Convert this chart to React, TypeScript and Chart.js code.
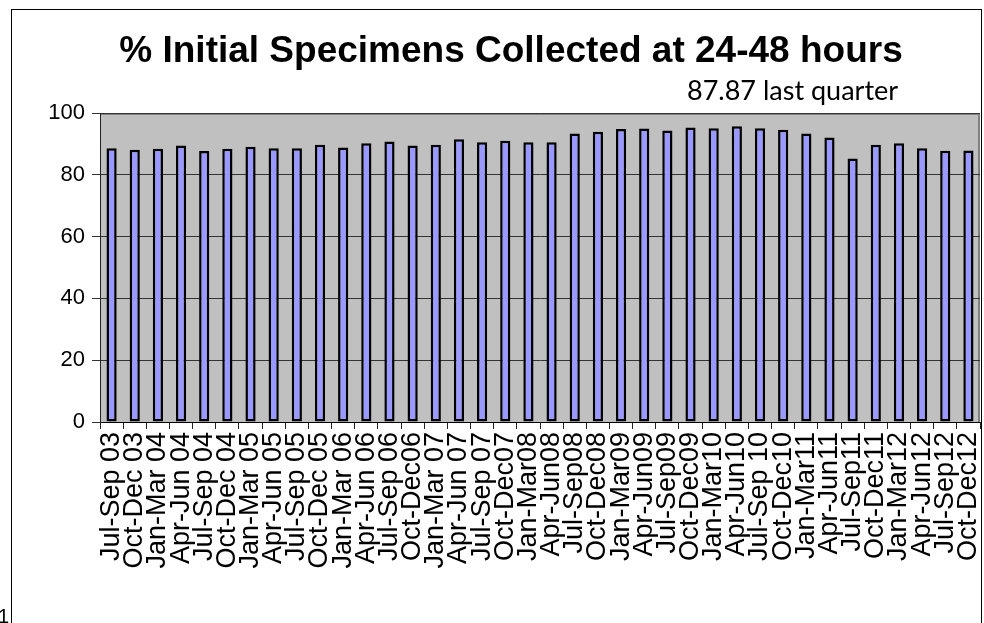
import React, { useEffect, useRef } from "react";
import { Chart, registerables } from "chart.js";
Chart.register(...registerables);

const TITLE = "% Initial Specimens Collected at 24-48 hours";
const SUBTITLE = "87.87 last quarter";

const categories = [
  "Jul-Sep 03", "Oct-Dec 03", "Jan-Mar 04", "Apr-Jun 04", "Jul-Sep 04", "Oct-Dec 04",
  "Jan-Mar 05", "Apr-Jun 05", "Jul-Sep 05", "Oct-Dec 05", "Jan-Mar 06", "Apr-Jun 06",
  "Jul-Sep 06", "Oct-Dec06", "Jan-Mar 07", "Apr-Jun 07", "Jul-Sep 07", "Oct-Dec07",
  "Jan-Mar08", "Apr-Jun08", "Jul-Sep08", "Oct-Dec08", "Jan-Mar09", "Apr-Jun09",
  "Jul-Sep09", "Oct-Dec09", "Jan-Mar10", "Apr-Jun10", "Jul-Sep 10", "Oct-Dec10",
  "Jan-Mar11", "Apr-Jun11", "Jul-Sep11", "Oct-Dec11", "Jan-Mar12", "Apr-Jun12",
  "Jul-Sep12", "Oct-Dec12",
];

const percentCollected = [
  88.6, 88.1, 88.4, 89.5, 87.7, 88.4,
  89.1, 88.6, 88.6, 89.7, 88.8, 90.2,
  90.8, 89.5, 89.7, 91.5, 90.5, 91.0,
  90.5, 90.5, 93.4, 93.9, 94.8, 95.0,
  94.3, 95.3, 95.1, 95.7, 95.1, 94.6,
  93.4, 92.1, 85.3, 89.7, 90.2, 88.6,
  87.8, 87.87,
];

const yMin = 0;
const yMax = 100;
const yStep = 20;

const plotBackground = {
  id: "plotBackground",
  beforeDraw(chart: any) {
    const { ctx, chartArea } = chart;
    const { left, top, right, bottom } = chartArea;
    ctx.save();
    ctx.fillStyle = "#C0C0C0";
    ctx.fillRect(left, top, right - left, bottom - top);
    ctx.strokeStyle = "#808080";
    ctx.lineWidth = 2;
    ctx.beginPath();
    ctx.moveTo(left, top + 1);
    ctx.lineTo(right - 1, top + 1);
    ctx.lineTo(right - 1, bottom);
    ctx.stroke();
    ctx.restore();
  },
};

const titles = {
  id: "titles",
  afterDraw(chart: any) {
    const { ctx } = chart;
    ctx.save();
    ctx.fillStyle = "#000";
    ctx.textBaseline = "middle";
    ctx.textAlign = "center";
    ctx.font = "bold 37px 'Liberation Sans', Arial, sans-serif";
    ctx.fillText(TITLE, 511, 52);
    ctx.textAlign = "left";
    ctx.font = "27px Lato, 'Open Sans', sans-serif";
    ctx.fillText(SUBTITLE, 687, 91);
    ctx.restore();
  },
};

export default function App() {
  const ref = useRef<HTMLCanvasElement>(null);
  useEffect(() => {
    if (!ref.current) return;
    const chart = new Chart(ref.current, {
      type: "bar",
      data: {
        labels: categories,
        datasets: [
          {
            data: percentCollected,
            backgroundColor: "#9999FF",
            borderColor: "#000000",
            borderWidth: 2.5,
            borderSkipped: false,
            barPercentage: 0.44,
            categoryPercentage: 1.0,
          },
        ],
      },
      options: {
        animation: false,
        responsive: false,
        maintainAspectRatio: false,
        layout: { padding: { left: 0, top: 113, right: 4, bottom: 0 } },
        plugins: {
          legend: { display: false },
          tooltip: { enabled: false },
          title: { display: false },
        },
        scales: {
          x: {
            offset: true,
            grid: {
              offset: true,
              drawOnChartArea: false,
              drawTicks: true,
              tickLength: 7,
              color: "#222",
            },
            border: { display: true, color: "#000", width: 1 },
            ticks: {
              autoSkip: false,
              minRotation: 90,
              maxRotation: 90,
              padding: 3,
              color: "#000",
              font: { family: "'Liberation Sans', Arial, sans-serif", size: 27 },
            },
            afterFit(scale: any) {
              scale.height = 201;
              scale.paddingLeft = 0;
              scale.paddingRight = 0;
            },
          },
          y: {
            min: yMin,
            max: yMax,
            ticks: {
              stepSize: yStep,
              padding: 7,
              color: "#000",
              font: { family: "'Liberation Sans', Arial, sans-serif", size: 22 },
            },
            grid: {
              color: "#333",
              lineWidth: 1,
              tickLength: 8,
            },
            border: { display: true, color: "#222", width: 1 },
            afterFit(scale: any) {
              scale.width = 100;
            },
          },
        },
      },
      plugins: [plotBackground, titles],
    });
    return () => chart.destroy();
  }, []);

  return (
    <div style={{ position: "fixed", left: 0, top: 0, width: 984, height: 623, background: "#fff", overflow: "hidden" }}>
      <canvas ref={ref} width={984} height={623} style={{ position: "absolute", left: 0, top: 0, width: 984, height: 623 }} />
      <div style={{ position: "absolute", left: 11, top: 9, width: 969, height: 700, border: "1px solid #000", pointerEvents: "none" }} />
      <div style={{ position: "absolute", left: -2, top: 606, fontFamily: "'Liberation Sans', Arial, sans-serif", fontSize: 20, lineHeight: "20px", color: "#000" }}>1</div>
    </div>
  );
}
